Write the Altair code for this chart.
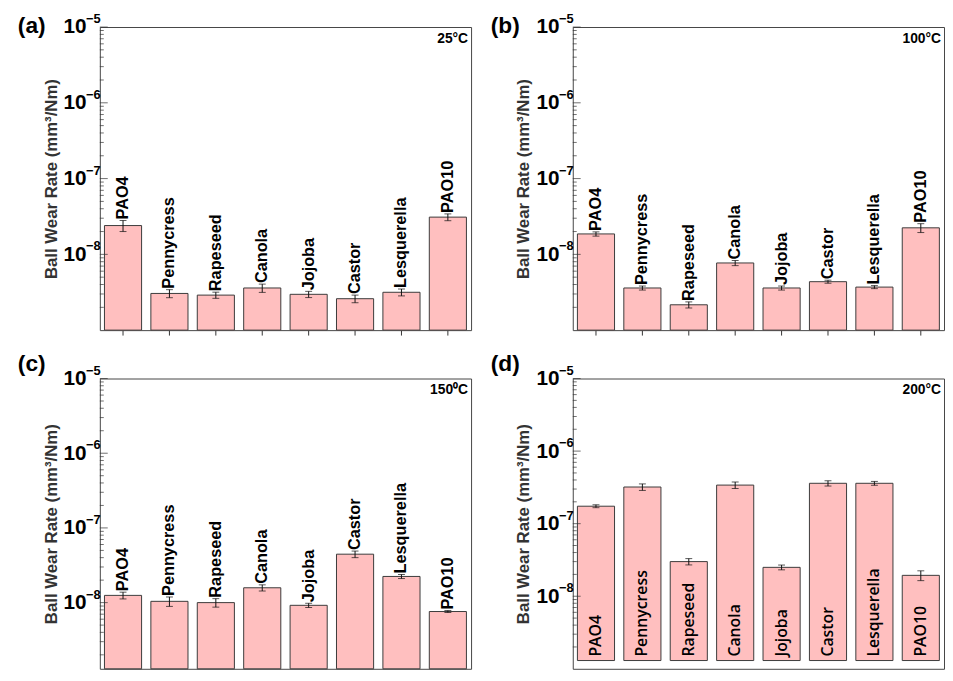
import altair as alt
import pandas as pd

oils = ["PAO4", "Pennycress", "Rapeseed", "Canola", "Jojoba", "Castor", "Lesquerella", "PAO10"]

rate_25 = [2.4e-8, 3.05e-9, 2.9e-9, 3.6e-9, 2.97e-9, 2.6e-9, 3.16e-9, 3.1e-8]
err_25 = [0.4e-8, 0.37e-9, 0.27e-9, 0.45e-9, 0.28e-9, 0.3e-9, 0.33e-9, 0.32e-8]

rate_100 = [1.86e-8, 3.6e-9, 2.16e-9, 7.7e-9, 3.6e-9, 4.36e-9, 3.7e-9, 2.24e-8]
err_100 = [0.12e-8, 0.22e-9, 0.2e-9, 0.6e-9, 0.22e-9, 0.2e-9, 0.17e-9, 0.3e-8]

rate_150 = [1.25e-8, 1.04e-8, 1.0e-8, 1.58e-8, 9.2e-9, 4.45e-8, 2.24e-8, 7.6e-9]
err_150 = [0.13e-8, 0.15e-8, 0.13e-8, 0.15e-8, 0.6e-9, 0.45e-8, 0.14e-8, 0.23e-9]

rate_200 = [1.74e-7, 3.2e-7, 3.0e-8, 3.4e-7, 2.5e-8, 3.6e-7, 3.6e-7, 1.94e-8]
err_200 = [0.08e-7, 0.33e-7, 0.3e-8, 0.35e-7, 0.19e-8, 0.3e-7, 0.22e-7, 0.3e-8]

temps = ["25°C", "100°C", "150⁰C", "200°C"]
tags = ["(a)", "(b)", "(c)", "(d)"]
major_vals = [1e-5, 1e-6, 1e-7, 1e-8]
major_exps = ["−5", "−6", "−7", "−8"]

FONT = "Liberation Sans"
W = 376
Y_TITLE = "Ball Wear Rate (mm³/Nm)"


def panel(rates, errs, temp, tag, top_row, inside_labels):
    H = 307 if top_row else 294
    domain = [1e-9, 1e-5] if top_row else [1.3e-9, 1e-5]
    df = pd.DataFrame({
        "oil": oils,
        "rate": rates,
        "lo": [r - e for r, e in zip(rates, errs)],
        "hi": [r + e for r, e in zip(rates, errs)],
    })
    ysc = alt.Scale(type="log", domain=domain)
    xsc = alt.Scale(paddingInner=0.2, paddingOuter=0.1)
    if top_row:
        xaxis = alt.Axis(labels=False, title=None, domain=False, ticks=True,
                         tickSize=5, tickColor="#333", grid=False)
    else:
        xaxis = None
    yaxis = alt.Axis(
        values=major_vals, ticks=False, domain=False, grid=False,
        labelExpr="'10'",
        labelFont=FONT, labelFontSize=21, labelFontWeight="bold", labelColor="#000",
        labelPadding=14, title=Y_TITLE, titleFont=FONT, titleFontSize=17,
        titleFontWeight="bold", titleColor="#333", titlePadding=3)

    def X():
        return alt.X("oil:N", sort=oils, scale=xsc, axis=xaxis)

    def Y(field):
        return alt.Y(field, scale=ysc, axis=yaxis)

    bars = alt.Chart(df).mark_bar(fill="#FFBFBF", stroke="#3a3a3a", strokeWidth=1).encode(
        x=X(), y=Y("rate:Q"), y2=alt.datum(domain[0]))
    rule = alt.Chart(df).mark_rule(color="#111", strokeWidth=1).encode(
        x=X(), y=Y("lo:Q"), y2="hi:Q")
    cap_lo = alt.Chart(df).mark_tick(color="#111", size=7, thickness=1).encode(
        x=X(), y=Y("lo:Q"))
    cap_hi = alt.Chart(df).mark_tick(color="#111", size=7, thickness=1).encode(
        x=X(), y=Y("hi:Q"))

    if inside_labels:
        lab = alt.Chart(df).mark_text(angle=270, align="left", baseline="middle", dx=4,
                                      font="Open Sans", fontSize=16, fontWeight=600, color="#000").encode(
            x=X(), y=alt.datum(domain[0]), text="oil:N")
    else:
        lab = alt.Chart(df).mark_text(angle=270, align="left", baseline="middle", dx=1,
                                      font=FONT, fontSize=16.5, fontWeight="bold", color="#000").encode(
            x=X(), y=Y("hi:Q"), text="oil:N")

    minor_vals = [m * 10.0 ** e for e in range(-9, -5) for m in range(2, 10)
                  if domain[0] <= m * 10.0 ** e <= domain[1]]
    mdf = pd.DataFrame({"rate": minor_vals})
    minor = alt.Chart(mdf).mark_tick(color="#333", size=4, thickness=1).encode(
        x=alt.value(2), y=Y("rate:Q"))
    Mdf = pd.DataFrame({"rate": major_vals, "e": major_exps})
    major = alt.Chart(Mdf).mark_tick(color="#333", size=8, thickness=1).encode(
        x=alt.value(4), y=Y("rate:Q"))
    exps = alt.Chart(Mdf).mark_text(
        align="left", baseline="middle", dy=-8, font=FONT, fontSize=13,
        fontWeight="bold", color="#000").encode(
        x=alt.value(-14), y=Y("rate:Q"), text="e:N")

    temp_t = alt.Chart(pd.DataFrame({"t": [temp]})).mark_text(
        align="right", baseline="middle", font=FONT, fontSize=14, fontWeight="bold", color="#000"
    ).encode(text="t:N", x=alt.value(W - 3), y=alt.value(12))
    tag_t = alt.Chart(pd.DataFrame({"t": [tag]})).mark_text(
        align="left", baseline="middle", font=FONT, fontSize=23, fontWeight="bold", color="#000"
    ).encode(text="t:N", x=alt.value(-83), y=alt.value(-1 if top_row else -15))

    return alt.layer(bars, rule, cap_lo, cap_hi, lab, minor, major, exps, temp_t, tag_t).properties(
        width=W, height=H)


a = panel(rate_25, err_25, temps[0], tags[0], True, False)
b = panel(rate_100, err_100, temps[1], tags[1], True, False)
c = panel(rate_150, err_150, temps[2], tags[2], False, False)
d = panel(rate_200, err_200, temps[3], tags[3], False, True)

row1 = alt.hconcat(a, b, spacing=18)
row2 = alt.hconcat(c, d, spacing=18)
chart = alt.vconcat(row1, row2, spacing=16).configure_view(
    stroke="#444", strokeWidth=1).properties(
    padding={"left": 9, "top": 0, "right": 0, "bottom": 0})

chart.save("out.html", embed_options={"renderer": "svg", "actions": False})
